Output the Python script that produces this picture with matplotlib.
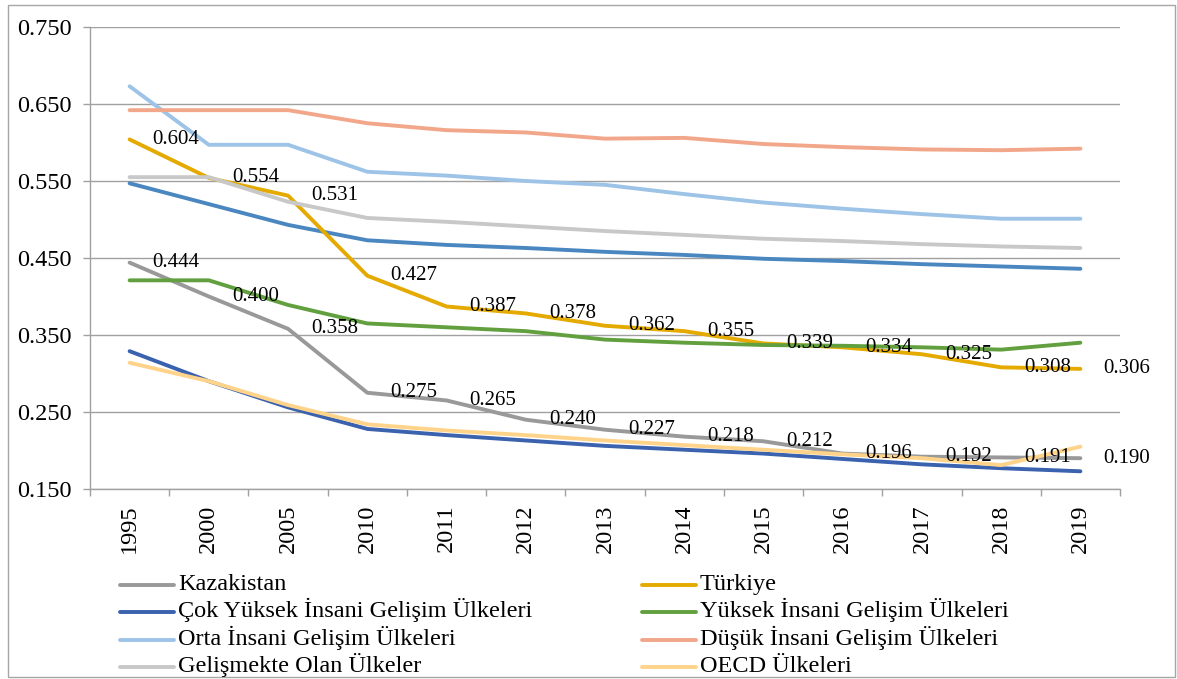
import matplotlib.pyplot as plt
from matplotlib.lines import Line2D
from matplotlib.patches import Rectangle
from matplotlib.ticker import FixedLocator, FormatStrFormatter

plt.rcParams['font.family'] = ['Liberation Serif', 'DejaVu Serif']

years = ['1995', '2000', '2005', '2010', '2011', '2012', '2013',
         '2014', '2015', '2016', '2017', '2018', '2019']

kazakistan = [0.444, 0.400, 0.358, 0.275, 0.265, 0.240, 0.227,
              0.218, 0.212, 0.196, 0.192, 0.191, 0.190]
turkiye = [0.604, 0.554, 0.531, 0.427, 0.387, 0.378, 0.362,
           0.355, 0.339, 0.334, 0.325, 0.308, 0.306]
cok_yuksek = [0.329, 0.290, 0.256, 0.228, 0.220, 0.213, 0.206,
              0.201, 0.196, 0.189, 0.182, 0.177, 0.173]
yuksek = [0.421, 0.421, 0.389, 0.365, 0.360, 0.355, 0.344,
          0.340, 0.337, 0.336, 0.334, 0.331, 0.340]
orta = [0.673, 0.597, 0.597, 0.562, 0.557, 0.550, 0.545,
        0.533, 0.522, 0.514, 0.507, 0.501, 0.501]
dusuk = [0.642, 0.642, 0.642, 0.625, 0.616, 0.613, 0.605,
         0.606, 0.598, 0.594, 0.591, 0.590, 0.592]
gelismekte = [0.555, 0.555, 0.523, 0.502, 0.497, 0.491, 0.485,
              0.480, 0.475, 0.472, 0.468, 0.465, 0.463]
oecd = [0.314, 0.290, 0.259, 0.234, 0.226, 0.220, 0.213,
        0.207, 0.201, 0.195, 0.190, 0.181, 0.205]
# ninth line in the chart, its legend entry is not shown
dunya = [0.547, 0.520, 0.493, 0.473, 0.467, 0.463, 0.458,
         0.454, 0.449, 0.446, 0.442, 0.439, 0.436]

W, H = 1177, 679
fig = plt.figure(figsize=(W / 100, H / 100), dpi=100)
ax = fig.add_axes([90 / W, 1 - 489 / H, 1030 / W, 462 / H])

x = list(range(len(years)))
lw = 2.8
series = [
    ('Kazakistan', kazakistan, '#999999'),
    ('Türkiye', turkiye, '#E4AA00'),
    ('Çok Yüksek İnsani Gelişim Ülkeleri', cok_yuksek, '#3A62AE'),
    ('Yüksek İnsani Gelişim Ülkeleri', yuksek, '#62A03F'),
    ('Orta İnsani Gelişim Ülkeleri', orta, '#9DC3E6'),
    ('Düşük İnsani Gelişim Ülkeleri', dusuk, '#F2A68A'),
    ('Gelişmekte Olan Ülkeler', gelismekte, '#C8C8C8'),
    ('OECD Ülkeleri', oecd, '#FFD48A'),
]

ax.plot(x, dunya, color='#4A86C0', lw=lw, solid_capstyle='round', zorder=3)
colors = {}
for name, vals, col in series:
    ax.plot(x, vals, color=col, lw=lw, solid_capstyle='round', zorder=3)
    colors[name] = col

# data labels for Kazakistan and Türkiye
for vals in (kazakistan, turkiye):
    for xi, v in zip(x, vals):
        ax.annotate(f'{v:.3f}', xy=(xi, v), xytext=(23, 0),
                    textcoords='offset pixels', ha='left', va='center',
                    fontsize=15, zorder=5)

ax.set_xlim(-0.5, 12.5)
ax.set_ylim(0.150, 0.750)
ax.yaxis.set_major_locator(FixedLocator([0.15, 0.25, 0.35, 0.45, 0.55, 0.65, 0.75]))
ax.yaxis.set_major_formatter(FormatStrFormatter('%.3f'))
ax.set_xticks(x)
ax.set_xticklabels(years, rotation=90)
ax.set_xticks([i - 0.5 for i in range(len(years) + 1)], minor=True)
ax.tick_params(axis='x', which='major', length=0, pad=11, labelsize=17.5)
ax.tick_params(axis='x', which='minor', length=5, color='#A0A0A0', width=1)
ax.tick_params(axis='y', length=5, color='#A0A0A0', width=1, pad=8, labelsize=17.5)

ax.grid(axis='y', color='#A0A0A0', lw=1, zorder=0)
for s in ('top', 'right'):
    ax.spines[s].set_visible(False)
for s in ('left', 'bottom'):
    ax.spines[s].set_color('#A0A0A0')
    ax.spines[s].set_linewidth(1)

# legend drawn by hand: two columns, four rows, Excel-like tight spacing
order = ['Kazakistan', 'Çok Yüksek İnsani Gelişim Ülkeleri',
         'Orta İnsani Gelişim Ülkeleri', 'Gelişmekte Olan Ülkeler',
         'Türkiye', 'Yüksek İnsani Gelişim Ülkeleri',
         'Düşük İnsani Gelişim Ülkeleri', 'OECD Ülkeleri']
for i, name in enumerate(order):
    col, row = divmod(i, 4)
    x0 = 120 + col * 522
    yl = 585 + row * 27.3
    fig.add_artist(Line2D([x0 / W, (x0 + 54) / W], [1 - yl / H, 1 - yl / H],
                          transform=fig.transFigure, color=colors[name],
                          lw=lw, solid_capstyle='round'))
    fig.text((x0 + 58) / W, 1 - (yl + 5) / H, name, ha='left',
             va='baseline', fontsize=17.5)

fig.add_artist(Rectangle((8 / W, 2 / H), 1167 / W, 672 / H,
                         transform=fig.transFigure, fill=False,
                         edgecolor='#A6A6A6', lw=1))

fig.savefig('out.png', dpi=100)
